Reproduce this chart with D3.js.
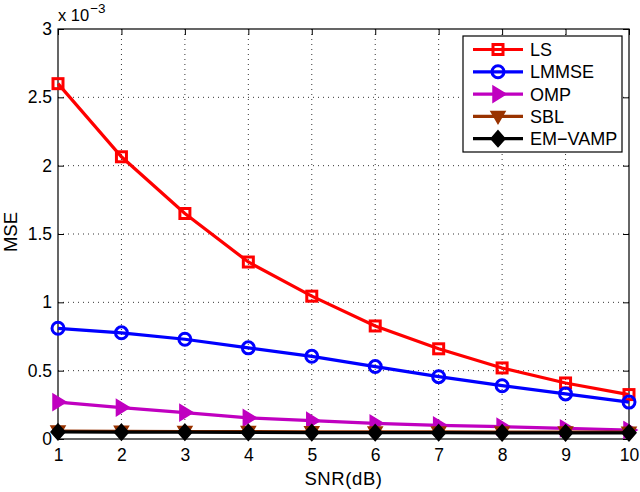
<!DOCTYPE html>
<html><head><meta charset="utf-8">
<script src="https://cdn.jsdelivr.net/npm/d3@7/dist/d3.min.js"></script>
<style>body{margin:0;background:#fff}svg{display:block}text{font-family:"Liberation Sans",Arial,sans-serif;fill:#000}</style>
</head><body><svg id="c" width="640" height="492"></svg>
<script>
const snr = [1,2,3,4,5,6,7,8,9,10];
const ls     = [2.60,2.065,1.65,1.295,1.045,0.827,0.66,0.52,0.41,0.325];
const lmmse  = [0.81,0.777,0.73,0.667,0.605,0.53,0.456,0.39,0.33,0.27];
const omp    = [0.27,0.23,0.193,0.155,0.134,0.115,0.10,0.09,0.078,0.066];
const sbl    = [0.058,0.056,0.055,0.054,0.053,0.052,0.052,0.051,0.051,0.05];
const emvamp = [0.052,0.05,0.05,0.048,0.047,0.046,0.046,0.045,0.045,0.045];
const xTicks = [1,2,3,4,5,6,7,8,9,10];
const yTicks = [0,0.5,1,1.5,2,2.5,3];
const series = [
  {name:"LS", values:ls, color:"#ff0000", marker:"square"},
  {name:"LMMSE", values:lmmse, color:"#0000ff", marker:"circle"},
  {name:"OMP", values:omp, color:"#c000c0", marker:"triRight"},
  {name:"SBL", values:sbl, color:"#993300", marker:"triDown"},
  {name:"EM\u2212VAMP", values:emvamp, color:"#000000", marker:"diamond"}
];

const svg = d3.select("#c");
const L=58, R=629, T=29, B=439;
const x = d3.scaleLinear().domain([1,10]).range([L,R]);
const y = d3.scaleLinear().domain([0,3]).range([B,T]);

// grid
const g = svg.append("g");
xTicks.forEach(t=>{ if(t>1&&t<10) g.append("line").attr("x1",x(t)).attr("x2",x(t)).attr("y1",T).attr("y2",B).attr("stroke","#000").attr("stroke-width",0.8).attr("stroke-dasharray","1,4"); });
yTicks.forEach(t=>{ if(t>0&&t<3) g.append("line").attr("x1",L).attr("x2",R).attr("y1",y(t)).attr("y2",y(t)).attr("stroke","#000").attr("stroke-width",0.8).attr("stroke-dasharray","1,4"); });

// axes
const xa = d3.axisBottom(x).tickValues(xTicks).tickSize(-6).tickPadding(10).tickFormat(d3.format("d"));
const xt = d3.axisTop(x).tickValues(xTicks).tickSize(-6).tickFormat("");
const ya = d3.axisLeft(y).tickValues(yTicks).tickSize(-6).tickPadding(6).tickFormat(d=>String(d));
const yr = d3.axisRight(y).tickValues(yTicks).tickSize(-6).tickFormat("");
function style(sel){ sel.select(".domain").remove(); sel.selectAll("line").attr("stroke","#000"); sel.selectAll("text").attr("font-size",17.5).attr("font-family","Liberation Sans, Arial, sans-serif"); }
svg.append("g").attr("transform",`translate(0,${B})`).call(xa).call(style);
svg.append("g").attr("transform",`translate(0,${T})`).call(xt).call(style);
svg.append("g").attr("transform",`translate(${L},0)`).call(ya).call(style);
svg.append("g").attr("transform",`translate(${R},0)`).call(yr).call(style);
svg.append("rect").attr("x",L).attr("y",T).attr("width",R-L).attr("height",B-T).attr("fill","none").attr("stroke","#000").attr("stroke-width",1.2);

// exponent label
const ex = svg.append("text").attr("x",58).attr("y",21).attr("font-size",16.5);
ex.append("tspan").text("x 10");
ex.append("tspan").attr("dx",1).attr("dy",-8).attr("font-size",13.5).text("\u22123");

// axis titles
svg.append("text").attr("x",(L+R)/2).attr("y",485).attr("text-anchor","middle").attr("font-size",18.5).attr("letter-spacing",0.6).text("SNR(dB)");
svg.append("text").attr("transform","translate(17,232) rotate(-90)").attr("text-anchor","middle").attr("font-size",18.5).text("MSE");

function marker(sel, type, color){
  if(type==="square") sel.append("rect").attr("x",-5).attr("y",-5).attr("width",10).attr("height",10).attr("fill","none").attr("stroke",color).attr("stroke-width",3);
  else if(type==="circle") sel.append("circle").attr("r",6).attr("fill","none").attr("stroke",color).attr("stroke-width",3);
  else if(type==="triRight") sel.append("path").attr("d","M-5,-8L8,0L-5,8Z").attr("fill",color).attr("stroke",color).attr("stroke-width",1.5);
  else if(type==="triDown") sel.append("path").attr("d","M-7,-5L7,-5L0,7Z").attr("fill",color).attr("stroke",color).attr("stroke-width",1.5);
  else if(type==="diamond") sel.append("path").attr("d","M0,-8L7,0L0,8L-7,0Z").attr("fill",color).attr("stroke",color).attr("stroke-width",1.5);
}

const line = d3.line().x((d,i)=>x(snr[i])).y(d=>y(d));
series.forEach(s=>{
  const sg = svg.append("g");
  sg.append("path").attr("d",line(s.values)).attr("fill","none").attr("stroke",s.color).attr("stroke-width",3.2);
  s.values.forEach((v,i)=>{ const m = sg.append("g").attr("transform",`translate(${x(snr[i])},${y(v)})`); marker(m,s.marker,s.color); });
});

// legend
const lg = svg.append("g");
lg.append("rect").attr("x",463).attr("y",36).attr("width",159).attr("height",116).attr("fill","#fff").attr("stroke","#000").attr("stroke-width",1.2);
series.forEach((s,i)=>{
  const yy = 49.5 + i*22.3;
  lg.append("line").attr("x1",473).attr("x2",523).attr("y1",yy).attr("y2",yy).attr("stroke",s.color).attr("stroke-width",3.2);
  const m = lg.append("g").attr("transform",`translate(498,${yy})`); marker(m,s.marker,s.color);
  lg.append("text").attr("x",530).attr("y",yy+6.5).attr("font-size",18).text(s.name);
});
</script></body></html>
